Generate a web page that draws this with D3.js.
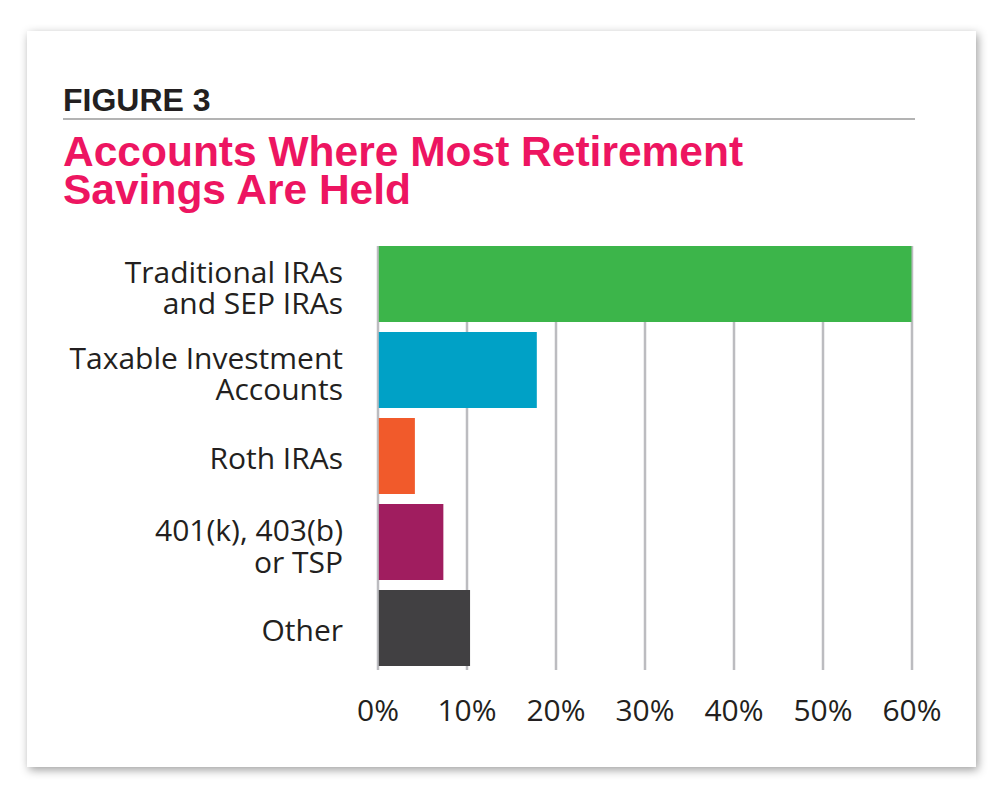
<!DOCTYPE html>
<html>
<head>
<meta charset="utf-8">
<script src="https://cdn.jsdelivr.net/npm/d3@7"></script>
<style>
  html, body { margin: 0; padding: 0; background: #ffffff; }
  svg { display: block; }
</style>
</head>
<body>
<svg id="chart" width="1000" height="796"></svg>
<script>
// ---- data ----
const categories = [
  ["Traditional IRAs", "and SEP IRAs"],
  ["Taxable Investment", "Accounts"],
  ["Roth IRAs"],
  ["401(k), 403(b)", "or TSP"],
  ["Other"]
];
const values = [60.0, 17.9, 4.2, 7.4, 10.4];
const barColors = ["#3cb54a", "#00a1c6", "#f15a2b", "#a01d5f", "#414042"];
const tickValues = [0, 10, 20, 30, 40, 50, 60];
const tickLabels = ["0%", "10%", "20%", "30%", "40%", "50%", "60%"];
const figureLabel = "FIGURE 3";
const titleLines = ["Accounts Where Most Retirement", "Savings Are Held"];

// ---- drawing ----
const svg = d3.select("#chart");
const defs = svg.append("defs");
const f = defs.append("filter").attr("id", "shadow")
  .attr("x", "-10%").attr("y", "-10%").attr("width", "120%").attr("height", "120%");
f.append("feDropShadow").attr("dx", 2).attr("dy", 3).attr("stdDeviation", 5)
  .attr("flood-color", "#000").attr("flood-opacity", 0.38);

svg.append("rect")
  .attr("x", 27).attr("y", 31).attr("width", 949).attr("height", 736)
  .attr("fill", "#ffffff").attr("filter", "url(#shadow)");

// header
svg.append("text")
  .attr("x", 63).attr("y", 110.5)
  .attr("font-family", "Liberation Sans, Arial, sans-serif")
  .attr("font-weight", "bold").attr("font-size", 32)
  .attr("fill", "#231f20")
  .text(figureLabel);

svg.append("line")
  .attr("x1", 63).attr("x2", 915).attr("y1", 119).attr("y2", 119)
  .attr("stroke", "#9a9a9a").attr("stroke-width", 1.6);

svg.append("g").selectAll("text").data(titleLines).join("text")
  .attr("x", 63).attr("y", (d, i) => 166 + i * 37.5)
  .attr("font-family", "Liberation Sans, Arial, sans-serif")
  .attr("font-weight", "bold").attr("font-size", 42.5)
  .attr("fill", "#ed1561")
  .text(d => d);

// scales
const x = d3.scaleLinear().domain([0, 60]).range([377.5, 911.5]);
const y = d3.scaleBand().domain(d3.range(categories.length))
  .range([246, 666]).paddingInner(0.1163).paddingOuter(0);

// gridlines via axis
const grid = svg.append("g").attr("transform", "translate(0,670)")
  .call(d3.axisBottom(x).tickValues(tickValues).tickSize(-424).tickFormat(""));
grid.select(".domain").remove();
grid.selectAll(".tick line").attr("stroke", "#bcbcc0").attr("stroke-width", 2.5);

// bars
svg.append("g").selectAll("rect").data(values).join("rect")
  .attr("x", x(0) + 1.3)
  .attr("y", (d, i) => y(i))
  .attr("width", d => x(d) - x(0) - 1.3)
  .attr("height", y.bandwidth())
  .attr("fill", (d, i) => barColors[i]);

// x axis labels
const xAxis = svg.append("g").attr("transform", "translate(0,721)")
  .call(d3.axisBottom(x).tickValues(tickValues).tickSize(0)
    .tickFormat((d, i) => tickLabels[i]));
xAxis.select(".domain").remove();
xAxis.selectAll(".tick text")
  .attr("y", 0).attr("dy", 0)
  .attr("font-family", "Open Sans, sans-serif")
  .attr("font-size", 30).attr("fill", "#231f20");

// category labels
const labelG = svg.append("g").attr("font-family", "Open Sans, sans-serif")
  .attr("font-size", 30).attr("fill", "#231f20").attr("text-anchor", "end");
categories.forEach((lines, i) => {
  const c = y(i) + y.bandwidth() / 2;
  const t = labelG.append("text").attr("x", 343);
  if (lines.length === 1) {
    t.append("tspan").attr("x", 343).attr("y", c + 13).text(lines[0]);
  } else {
    lines.forEach((ln, j) => {
      t.append("tspan").attr("x", 343).attr("y", c - 1 + j * 31.5).text(ln);
    });
  }
});
</script>
</body>
</html>
